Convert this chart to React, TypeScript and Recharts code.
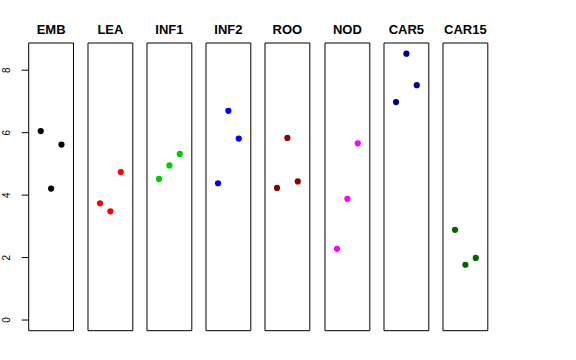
import { ReferenceArea, Scatter, ScatterChart, XAxis, YAxis } from "recharts";

const groups = ["EMB", "LEA", "INF1", "INF2", "ROO", "NOD", "CAR5", "CAR15"];
const colors = ["#000000", "#FF0000", "#00CD00", "#0000FF", "#8B0000", "#FF00FF", "#00008B", "#006400"];
const positions = [1, 2, 3];
const values = [
  [6.05, 4.21, 5.62],
  [3.74, 3.48, 4.74],
  [4.52, 4.95, 5.32],
  [4.38, 6.7, 5.81],
  [4.23, 5.83, 4.44],
  [2.28, 3.88, 5.66],
  [6.98, 8.53, 7.52],
  [2.89, 1.77, 1.99],
];
const yTicks = [0, 2, 4, 6, 8];

const xDomain = [-0.16, 4.16];
const yDomain = [-0.341, 8.871];
const panelLefts = [28.7, 87.8, 147.1, 206.3, 265.4, 324.5, 383.8, 443];
const panelWidth = 44.8;
const plotTop = 43.3;
const plotHeight = 287.7;
const topPad = 20;
const pad = 2;
const axisWidth = 28.7;

const font = "'Liberation Sans', Arial, sans-serif";

function YTick(props: any) {
  const { y, payload } = props;
  return (
    <text
      x={10}
      y={y}
      transform={`rotate(-90, 10, ${y})`}
      textAnchor="middle"
      fontSize={10}
      fontFamily={font}
      fill="#000"
    >
      {payload.value}
    </text>
  );
}

function Dot(props: any) {
  const { cx, cy, fill } = props;
  return <circle cx={cx} cy={cy} r={3.1} fill={fill} />;
}

function Panel({ index }: { index: number }) {
  const first = index === 0;
  const data = positions.map((p, i) => ({ x: p, y: values[index][i] }));
  const left = first ? 0 : panelLefts[index] - pad;
  const width = (first ? axisWidth : pad) + panelWidth + pad;
  return (
    <div style={{ position: "absolute", left, top: plotTop - topPad }}>
      <ScatterChart
        width={width}
        height={plotHeight + topPad + pad}
        margin={{ top: topPad, right: pad, bottom: pad, left: first ? 0 : pad }}
      >
        <XAxis type="number" dataKey="x" domain={xDomain} hide />
        <YAxis
          type="number"
          dataKey="y"
          domain={yDomain}
          ticks={yTicks}
          hide={!first}
          width={axisWidth}
          axisLine={false}
          tickLine={{ stroke: "#000" }}
          tickSize={7}
          tick={<YTick />}
          interval={0}
        />
        <ReferenceArea
          x1={xDomain[0]}
          x2={xDomain[1]}
          y1={yDomain[0]}
          y2={yDomain[1]}
          stroke="#000"
          strokeWidth={1}
          fill="none"
          fillOpacity={0}
          ifOverflow="visible"
          label={{
            value: groups[index],
            position: "top",
            offset: 9,
            fontSize: 13,
            fontWeight: "bold",
            fontFamily: font,
            fill: "#000",
          }}
        />
        <Scatter data={data} fill={colors[index]} shape={<Dot />} isAnimationActive={false} />
      </ScatterChart>
    </div>
  );
}

export default function App() {
  return (
    <div style={{ position: "absolute", left: 0, top: 0, width: 576, height: 360, background: "#fff" }}>
      {groups.map((g, i) => (
        <Panel key={g} index={i} />
      ))}
    </div>
  );
}
